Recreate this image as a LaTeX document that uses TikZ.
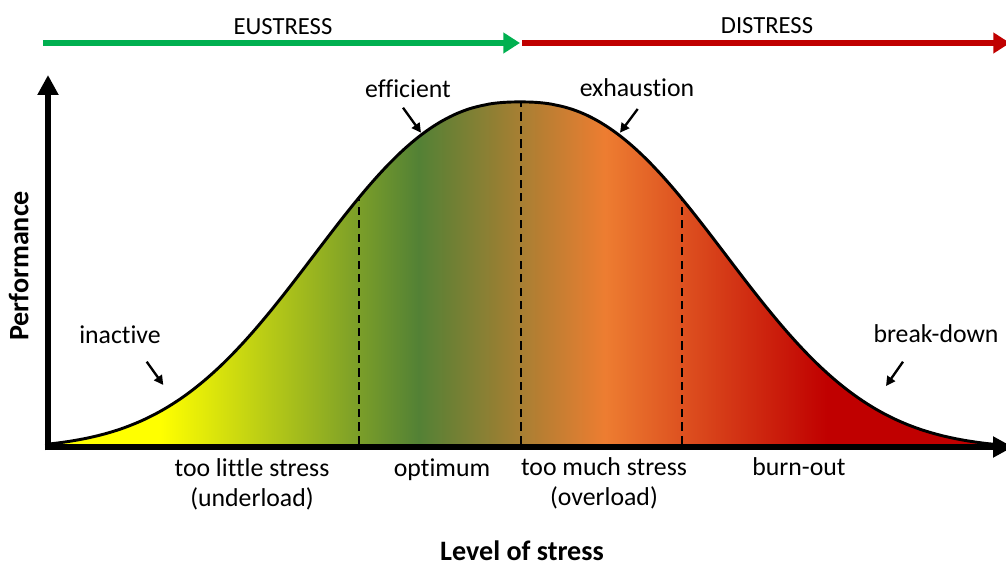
\documentclass[tikz,border=0pt]{standalone}
\usepackage{fontspec}
\setmainfont[Ligatures=NoCommon]{Carlito}
\usetikzlibrary{arrows.meta}

\definecolor{euGreen}{HTML}{00B050}
\definecolor{diRed}{HTML}{C00000}
\definecolor{fillYellow}{HTML}{FFFF00}
\definecolor{fillGreen}{HTML}{538135}
\definecolor{fillOrange}{HTML}{ED7D31}
\definecolor{fillRed}{HTML}{C00000}

% colour band under the curve (25bp..75bp = left..right of the shaded box)
\pgfdeclarehorizontalshading{stressband}{100bp}{%
  color(0bp)=(fillYellow); color(30.9bp)=(fillYellow); color(44.5bp)=(fillGreen);
  color(54.3bp)=(fillOrange); color(66bp)=(fillRed); color(100bp)=(fillRed)}

\begin{document}
\begin{tikzpicture}[
  x=0.03cm, y=0.03cm,
  declare function={perf(\x)=-2+347*exp(-pow(max(abs(\x-472),1)/258,2.4));},
  axis/.style={line width=4.6pt,-{Triangle[length=0.6cm,width=0.6cm]}},
  band/.style={line width=5pt,-{Triangle[length=0.5cm,width=0.6cm]}},
  ptr/.style={line width=2pt,-{Triangle[length=2.8mm,width=2.8mm]}},
  divider/.style={line width=1.7pt,dash pattern=on 7pt off 4.5pt},
  lbl/.style={anchor=base,inner sep=0pt,font=\fontsize{22}{26}\selectfont},
  bandlbl/.style={anchor=base,inner sep=0pt,font=\fontsize{21}{25}\selectfont},
  ttl/.style={anchor=base,inner sep=0pt,font=\fontsize{24}{28}\selectfont\bfseries}
]
  \useasboundingbox (-48,-120) rectangle (958,447);

  % ---------- shaded area under the performance curve ----------
  \begin{scope}
    \clip (2,0) -- plot[domain=2:947,samples=240] (\x,{perf(\x)}) -- (947,0) -- cycle;
    \shade[shading=stressband] (0,0) rectangle (950,350);
  \end{scope}

  % zone borders
  \foreach \x in {311,473,634}
    \draw[divider] (\x,3) -- (\x,{perf(\x)});

  % curve
  \draw[line width=2.5pt,line join=round]
    plot[domain=2:947,samples=240,smooth] (\x,{perf(\x)});

  % ---------- axes ----------
  \draw[axis] (0,-3.3) -- (0,372);
  \draw[axis] (-3.3,0) -- (965,0);
  \node[ttl,rotate=90] (yl) at (-19.5,181) {Performance};
  \node[ttl] (xl) at (474,-114) {Level of stress};

  % ---------- eustress / distress ----------
  \draw[band,euGreen] (-5,404) -- (472,404);
  \draw[band,diRed] (474,404) -- (962,404);
  \node[bandlbl] (eu) at (235,412.5) {EUSTRESS};
  \node[bandlbl] (di) at (719,413) {DISTRESS};

  % ---------- labels on the curve ----------
  \node[lbl] (inact) at (72,103.7) {inactive};
  \node[lbl] (effic) at (360,349.7) {efficient};
  \node[lbl] (exhau) at (589,350) {exhaustion};
  \node[lbl] (brk) at (888,104.3) {break-down};

  \coordinate (inact-a) at (98.7,85.3);  \coordinate (inact-b) at (115.3,62);
  \coordinate (effic-a) at (355,339.3);  \coordinate (effic-b) at (373,314.3);
  \coordinate (exhau-a) at (589.7,338);  \coordinate (exhau-b) at (572,314.3);
  \coordinate (brk-a)   at (855,85.3);   \coordinate (brk-b)   at (838,61);
  \draw[ptr] (inact-a) -- (inact-b);
  \draw[ptr] (effic-a) -- (effic-b);
  \draw[ptr] (exhau-a) -- (exhau-b);
  \draw[ptr] (brk-a) -- (brk-b);

  % ---------- zones along the stress axis ----------
  \node[lbl] (under) at (204,-29.7) {too little stress};
  \node[lbl] (under2) at (204,-59.7) {(underload)};
  \node[lbl] (optim) at (394,-29.7) {optimum};
  \node[lbl] (over) at (556,-29) {too much stress};
  \node[lbl] (over2) at (556,-59) {(overload)};
  \node[lbl] (burn) at (751,-29) {burn-out};
\end{tikzpicture}
\end{document}
